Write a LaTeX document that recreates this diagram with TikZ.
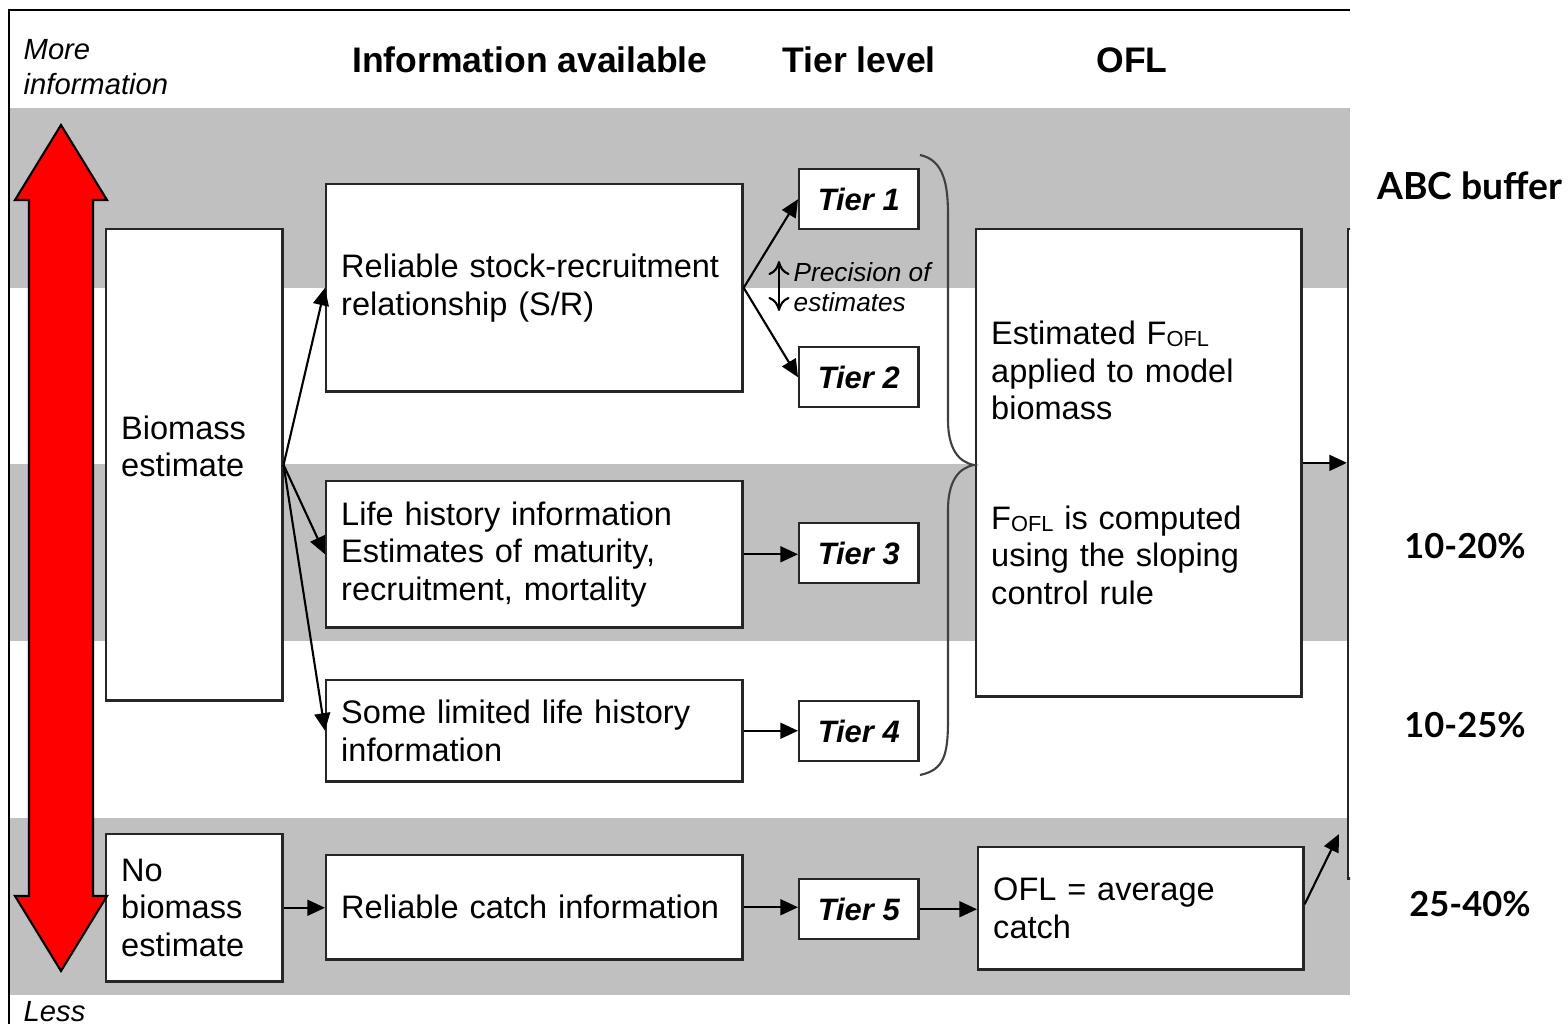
\documentclass[tikz,border=0pt]{standalone}
\usepackage{fontspec}
\setmainfont{Liberation Sans}
\newfontfamily\gillfont{Lato}
\usepackage{tikz}
\usetikzlibrary{arrows.meta}
\definecolor{bandgray}{RGB}{192,192,192}
\newcommand{\Fofl}{F\raisebox{-0.7pt}{\fontsize{6.2}{7}\selectfont OFL}}

\begin{document}
\begin{tikzpicture}[x=0.01cm, y=-0.01cm, font=\fontsize{9.25}{10.7}\selectfont,
  box/.style={draw=black!85, line width=0.7pt, fill=white, anchor=north west, align=left, inner xsep=0.15cm, inner ysep=0pt},
  tierbox/.style={draw=black!85, line width=0.7pt, fill=white, anchor=north west, minimum width=1.19cm, minimum height=0.6cm, inner sep=0pt, font=\fontsize{8.8}{10}\selectfont\bfseries\itshape},
  head/.style={font=\fontsize{10.1}{12}\selectfont\bfseries},
  side/.style={align=left, anchor=west, inner sep=0pt, font=\fontsize{8.3}{10}\selectfont\itshape},
  pct/.style={font=\gillfont\fontsize{9.8}{12}\selectfont\bfseries},
  arr/.style={-{Triangle[length=5pt,width=4.5pt]}, line width=0.6pt}]
\useasboundingbox (0,0) rectangle (1568,1024);
\begin{scope}
\clip (0,0) rectangle (1350,1024);
\fill[bandgray] (10,108) rectangle (1350,288);
\fill[bandgray] (10,464) rectangle (1350,641);
\fill[bandgray] (10,818) rectangle (1350,995);
\draw[line width=0.6pt] (9,1024) -- (9,10) -- (1350,10);
\node[head] (hinfo) at (530,60) {Information available};
\node[head] (htier) at (859,60) {Tier level};
\node[head] (hofl) at (1132,60) {OFL};
\node[side] (more) at (23,67) {More\\information};
\node[side] (less) at (23,1012) {Less};
\node[box, text width=1.46cm, minimum height=4.71cm] (bio) at (105,228) {Biomass\\estimate\\\mbox{}};
\node[box, text width=1.46cm, minimum height=1.47cm] (nobio) at (105,833) {No\\biomass\\estimate};
\node[box, text width=3.86cm, minimum height=2.07cm] (sr) at (325,183) {Reliable stock-recruitment\\relationship (S/R)};
\node[box, text width=3.86cm, minimum height=1.46cm] (life) at (325,480) {Life history information\\Estimates of maturity,\\recruitment, mortality};
\node[box, text width=3.86cm, minimum height=1.01cm] (lim) at (325,679) {Some limited life history\\information};
\node[box, text width=3.86cm, minimum height=1.04cm] (catch) at (325,854) {Reliable catch information};
\node[tierbox] (t1) at (798,168) {Tier 1};
\node[tierbox] (t2) at (798,346) {Tier 2};
\node[tierbox] (t3) at (798,522) {Tier 3};
\node[tierbox] (t4) at (798,700) {Tier 4};
\node[tierbox] (t5) at (798,878) {Tier 5};
\node[box, text width=2.95cm, minimum height=4.67cm] (ofl) at (975,228) {Estimated \Fofl\\applied to model\\biomass\\[20.5pt]\Fofl{} is computed\\using the sloping\\control rule};
\node[box, text width=2.95cm, minimum height=1.22cm] (avg) at (977,846) {OFL = average\\catch};
\node[box, text width=0.7cm, minimum height=6.49cm] (abc) at (1347,228) {};
\node[side, font=\fontsize{7.45}{8.5}\selectfont\itshape] (prec) at (793,287) {Precision of\\estimates};
\coordinate (pu) at (779,261);
\coordinate (pd) at (779,311);
\coordinate (abcin) at (1339,834);
\draw[{To[length=4pt,width=6pt]}-{To[length=4pt,width=6pt]}, line width=0.6pt] (pu) -- (pd);
\draw[line width=0.6pt, black!75] (920,155) .. controls (944,160) and (948,185) .. (948,215) -- (948,420) .. controls (948,448) and (958,462) .. (974,465) .. controls (958,468) and (948,482) .. (948,510) -- (948,720) .. controls (948,755) and (944,770) .. (920,775);
\draw[arr] (bio.east) -- (sr.west);
\draw[arr] (bio.east) -- (life.west);
\draw[arr] (bio.east) -- (lim.west);
\draw[arr] (sr.east) -- (t1.west);
\draw[arr] (sr.east) -- (t2.west);
\draw[arr] (life.east) -- (life.east -| t3.west);
\draw[arr] (lim.east) -- (lim.east -| t4.west);
\draw[arr] (nobio.east) -- (nobio.east -| catch.west);
\draw[arr] (catch.east) -- (catch.east -| t5.west);
\draw[arr] (t5.east) -- (t5.east -| avg.west);
\draw[arr] (ofl.east) -- (ofl.east -| abc.west);
\draw[arr] ([yshift=0.04cm]avg.east) -- (abcin);
\draw[fill=red, line width=0.6pt] (61,125) -- (107,200) -- (93,200) -- (93,896) -- (107,896) -- (61,971) -- (15,896) -- (29,896) -- (29,200) -- (15,200) -- cycle;
\end{scope}
\node[pct, font=\gillfont\fontsize{10.6}{12}\selectfont\bfseries] (abcbuf) at (1470,186) {ABC buffer};
\node[pct] (p1) at (1465,546) {10-20\%};
\node[pct] (p2) at (1465,725) {10-25\%};
\node[pct] (p3) at (1470,904) {25-40\%};
\end{tikzpicture}
\end{document}
